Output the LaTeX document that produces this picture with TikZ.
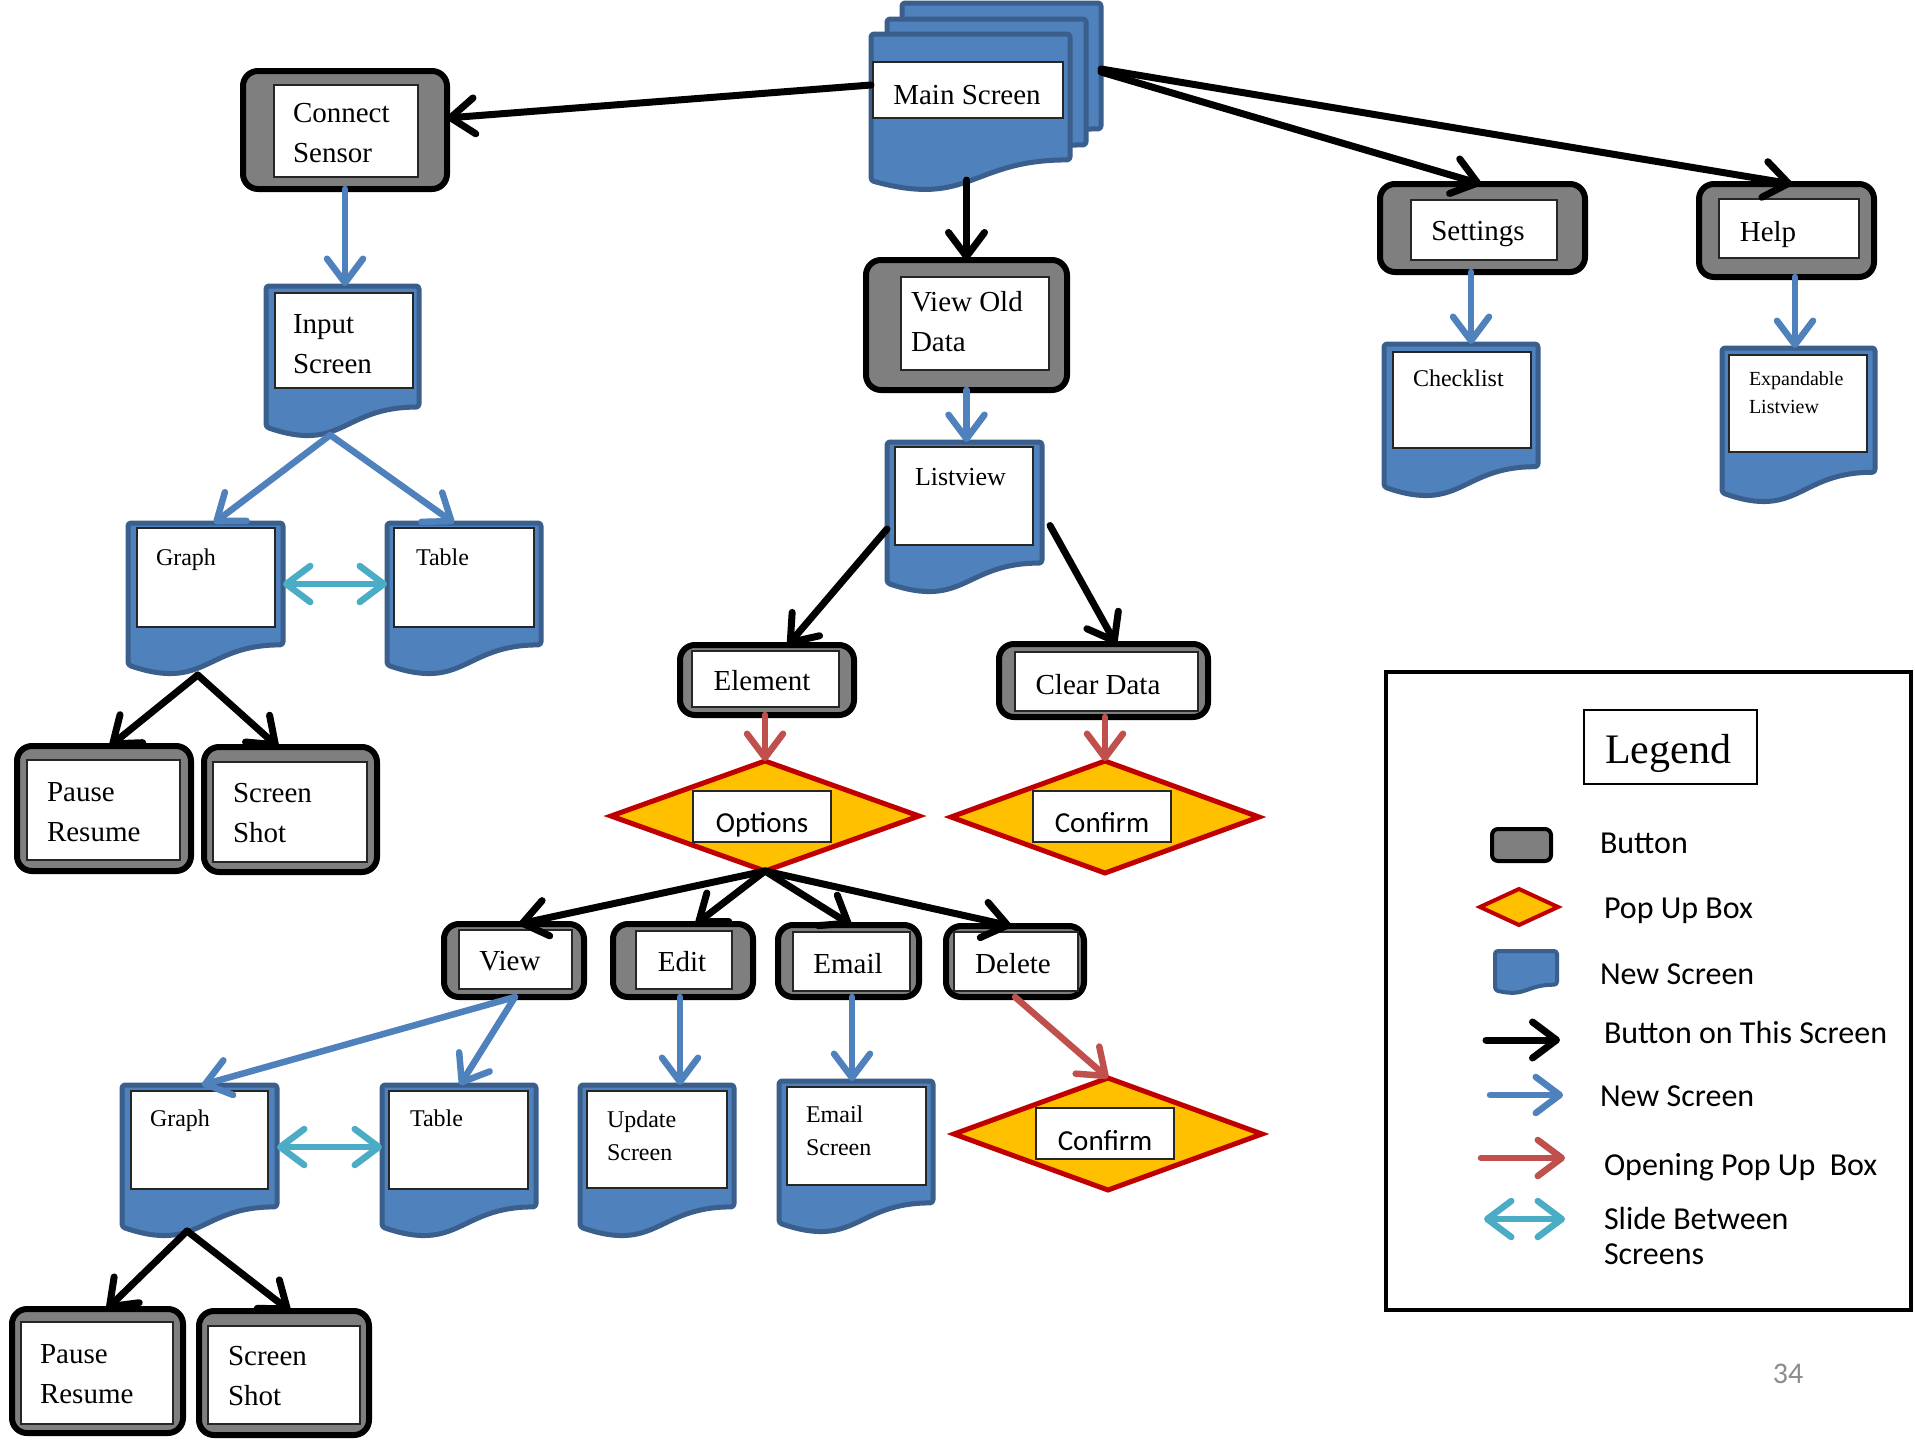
\documentclass[tikz,border=0pt]{standalone}
\usepackage{fontspec}
\setmainfont{Liberation Serif}
\newfontfamily\calfont{Carlito}
\usetikzlibrary{arrows.meta,shapes.geometric,calc,fit}
\definecolor{docblue}{HTML}{4F81BD}
\definecolor{docedge}{HTML}{3A5F8C}
\definecolor{btngray}{HTML}{7F7F7F}
\definecolor{popfill}{HTML}{FFC000}
\definecolor{popedge}{HTML}{C00000}
\definecolor{arrred}{HTML}{C0504D}
\definecolor{arrcyan}{HTML}{4BACC6}
\definecolor{pagegray}{HTML}{8C8C8C}
\newcommand\fsz[2]{\fontsize{#1}{#2}\selectfont}
\tikzset{
  every node/.style={inner sep=0pt, outer sep=0pt},
  vbarb/.tip={Straight Barb[length=24pt,width=36pt,round]},
  btnbox/.style={draw=black, line width=6pt, fill=btngray, rounded corners=15pt},
  wbox/.style={draw=black!85, line width=1.5pt, fill=white},
  docbox/.style={draw=none},
  docline/.style={draw=docedge, fill=docblue, line width=5pt, rounded corners=3pt, line join=round},
  popbox/.style={diamond, draw=popedge, fill=popfill, line width=5pt},
  lbl/.style={anchor=west, align=left},
  ctr/.style={text depth=0pt},
  blk/.style={draw=black, line width=7pt, line cap=round, -vbarb},
  blu/.style={draw=docblue, line width=6.5pt, line cap=round, -vbarb},
  redarr/.style={draw=arrred, line width=6.5pt, line cap=round, -vbarb},
  cyanarr/.style={draw=arrcyan, line width=6.5pt, line cap=round, vbarb-vbarb},
  btnfont/.style={font=\fsz{29}{40}},
  legtext/.style={anchor=west, align=left, text depth=0pt, font=\calfont\fsz{32}{35}},
}
\newcommand\docshape[2][]{\draw[docline,#1] (#2.north west) -- (#2.north east) -- ($(#2.north east)!0.802!(#2.south east)$) .. controls ($(#2.north)!0.802!(#2.south)$) and ($(#2.north)!1.108!(#2.south)$) .. ($(#2.north west)!0.934!(#2.south west)$) -- cycle;}
\newcommand\docnode[5]{\node[docbox, fit={(#2,#3)(#4,#5)}] (#1) {};\docshape{#1}}
\newcommand\wnode[5]{\node[wbox, fit={(#2,#3)(#4,#5)}] (#1) {};}
\newcommand\btnnode[5]{\node[btnbox, fit={(#2,#3)(#4,#5)}] (#1) {};}
\begin{document}
\begin{tikzpicture}[x=1pt,y=-1pt]
\fill[white] (0,0) rectangle (1915,1440);
\useasboundingbox (0,0) rectangle (1915,1440);

% ---------- Main screen stack ----------
\docnode{ms3}{902}{3}{1101}{160}
\docnode{ms2}{887}{19}{1086}{176}
\docnode{ms1}{871}{34}{1070}{191}
\wnode{msw}{873}{62}{1063}{118}
\node[ctr, btnfont] (mst) at (967,95) {Main Screen};

% ---------- Connect sensor branch ----------
\btnnode{cs}{243}{71}{447}{189}
\wnode{csw}{274}{85}{418}{177}
\node[lbl, btnfont] (cst) at (293,133) {Connect\\Sensor};

\docnode{is}{266}{286}{419}{437}
\wnode{isw}{275}{293}{413}{388}
\node[lbl, btnfont] (ist) at (293,344) {Input\\Screen};

\docnode{g1}{128}{523}{283}{675}
\wnode{g1w}{137}{528}{275}{627}
\node[lbl, ctr, font=\fsz{24}{30}] (g1t) at (156,557) {Graph};

\docnode{t1}{387}{523}{541}{675}
\wnode{t1w}{394}{528}{534}{627}
\node[lbl, ctr, font=\fsz{24}{30}] (t1t) at (416,557) {Table};

\btnnode{p1}{17}{746}{191}{871}
\wnode{p1w}{27}{760}{180}{860}
\node[lbl, btnfont] (p1t) at (47,812) {Pause\\Resume};

\btnnode{s1}{204}{747}{377}{872}
\wnode{s1w}{213}{762}{367}{862}
\node[lbl, btnfont] (s1t) at (233,813) {Screen\\Shot};

% ---------- View old data branch ----------
\btnnode{vo}{866}{260}{1067}{390}
\wnode{vow}{901}{277}{1049}{370}
\node[lbl, btnfont] (vot) at (911,322) {View Old\\Data};

\docnode{lv}{887}{442}{1042}{593}
\wnode{lvw}{895}{447}{1033}{545}
\node[lbl, ctr, font=\fsz{26}{32}] (lvt) at (915,477) {Listview};

\btnnode{el}{680}{645}{854}{715}
\wnode{elw}{692}{651}{839}{707}
\node[ctr, btnfont] (elt) at (762,680) {Element};

\btnnode{cd}{999}{644}{1208}{717}
\wnode{cdw}{1015}{652}{1198}{711}
\node[ctr, btnfont] (cdt) at (1098,684) {Clear Data};

\node[popbox, minimum width=308pt, minimum height=110pt] (op) at (765,816) {};
\wnode{opw}{693}{791}{831}{842}
\node[ctr, font=\calfont\fsz{29}{34}] (opt) at (762,822) {Options};

\node[popbox, minimum width=308pt, minimum height=112pt] (cf1) at (1105,817) {};
\wnode{cf1w}{1033}{791}{1171}{842}
\node[ctr, font=\calfont\fsz{29}{34}] (cf1t) at (1102,822) {Confirm};

\btnnode{vw}{444}{924}{584}{997}
\wnode{vww}{459}{930}{572}{989}
\node[ctr, btnfont] (vwt) at (510,961) {View};

\btnnode{ed}{613}{924}{753}{997}
\wnode{edw}{636}{931}{732}{989}
\node[ctr, btnfont] (edt) at (682,961) {Edit};

\btnnode{em}{778}{925}{919}{997}
\wnode{emw}{793}{932}{910}{991}
\node[ctr, btnfont] (emt) at (848,963) {Email};

\btnnode{de}{946}{926}{1084}{997}
\wnode{dew}{954}{932}{1078}{991}
\node[ctr, btnfont] (det) at (1013,963) {Delete};

\docnode{g2}{122}{1085}{277}{1237}
\wnode{g2w}{131}{1091}{268}{1189}
\node[lbl, ctr, font=\fsz{24}{30}] (g2t) at (150,1118) {Graph};

\docnode{t2}{382}{1085}{536}{1237}
\wnode{t2w}{389}{1091}{528}{1189}
\node[lbl, ctr, font=\fsz{24}{30}] (t2t) at (410,1118) {Table};

\btnnode{p2}{12}{1309}{183}{1433}
\wnode{p2w}{21}{1322}{173}{1424}
\node[lbl, btnfont] (p2t) at (40,1374) {Pause\\Resume};

\btnnode{s2}{199}{1311}{369}{1435}
\wnode{s2w}{208}{1326}{360}{1424}
\node[lbl, btnfont] (s2t) at (228,1376) {Screen\\Shot};

\docnode{ud}{580}{1085}{734}{1237}
\wnode{udw}{587}{1091}{727}{1188}
\node[lbl, font=\fsz{24}{33}] (udt) at (607,1136) {Update\\Screen};

\docnode{es}{779}{1081}{933}{1233}
\wnode{esw}{787}{1087}{926}{1185}
\node[lbl, font=\fsz{24}{33}] (est) at (806,1131) {Email\\Screen};

\node[popbox, minimum width=308pt, minimum height=112pt] (cf2) at (1108,1134) {};
\wnode{cf2w}{1036}{1108}{1174}{1159}
\node[ctr, font=\calfont\fsz{29}{34}] (cf2t) at (1105,1140) {Confirm};

% ---------- Settings / Help ----------
\btnnode{st}{1380}{184}{1585}{272}
\wnode{stw}{1411}{200}{1557}{260}
\node[ctr, btnfont] (stt) at (1478,231) {Settings};

\btnnode{hp}{1699}{184}{1874}{277}
\wnode{hpw}{1719}{199}{1859}{258}
\node[ctr, btnfont] (hpt) at (1768,231) {Help};

\docnode{ck}{1384}{344}{1538}{497}
\wnode{ckw}{1393}{352}{1531}{448}
\node[lbl, ctr, font=\fsz{24}{30}] (ckt) at (1413,378) {Checklist};

\docnode{ex}{1722}{348}{1875}{503}
\wnode{exw}{1729}{355}{1867}{452}
\node[lbl, font=\fsz{20}{28}] (ext) at (1749,393) {Expandable\\Listview};

% ---------- Connectors ----------
\coordinate (ms1b) at ($(ms1.north)!0.93!(ms1.south)$);
\draw[blk] (ms1.west |- 0,85) -- (cs.east |- 0,118);
\draw[blk] (ms1b -| vo.north) -- (vo.north);
\draw[blk] (ms3.east |- 0,72) -- (st.north -| 1481,0);
\draw[blk] (ms3.east |- 0,69) -- (hp.north -| 1792,0);

\draw[blu] (cs.south) -- (cs.south |- is.north);
\coordinate (isb) at ($(is.south west)!0.42!(is.south east)+(0,-2)$);
\draw[blu] (isb) -- (g1.north -| 214,0);
\draw[blu] (isb) -- (t1.north -| 454,0);
\draw[cyanarr] (g1.east |- 0,584) -- (t1.west |- 0,584);
\coordinate (g1b) at ($(g1.south west)!0.45!(g1.south east)$);
\draw[blk] (g1b) -- (p1.north -| 110,0);
\draw[blk] (g1b) -- (s1.north -| 278,0);

\draw[blu] (vo.south) -- (vo.south |- lv.north);
\draw[blk] (lv.west |- 0,529) -- (el.north -| 788,0);
\draw[blk] ($(lv.east)+(8,8)$) -- (cd.north -| 1116,0);
\draw[redarr] (el.south -| op.north) -- (op.north);
\draw[redarr] (cd.south -| cf1.north) -- (cf1.north);
\draw[blk] (op.south) -- (vw.north -| 519,0);
\draw[blk] (op.south) -- (ed.north -| 696,0);
\draw[blk] (op.south) -- (em.north -| 851,0);
\draw[blk] (op.south) -- (de.north -| 1011,0);
\draw[blu] (vw.south -| 515,0) -- (g2.north -| 202,0);
\draw[blu] (vw.south -| 515,0) -- (t2.north -| 460,0);
\draw[cyanarr] (g2.east |- 0,1147) -- (t2.west |- 0,1147);
\coordinate (g2b) at ($(g2.south west)!0.42!(g2.south east)+(0,-6)$);
\draw[blk] (g2b) -- (p2.north -| 107,0);
\draw[blk] (g2b) -- (s2.north -| 290,0);
\draw[blu] (ed.south -| 680,0) -- (ud.north -| 680,0);
\draw[blu] (em.south -| 852,0) -- (es.north -| 852,0);
\draw[redarr] (de.south -| 1015,0) -- (cf2.north);
\draw[blu] (st.south -| 1471,0) -- (ck.north -| 1471,0);
\draw[blu] (hp.south -| 1795,0) -- (ex.north -| 1795,0);

% ---------- Legend ----------
\node[draw=black, line width=4pt, fit={(1386,672)(1911,1310)}] (leg) {};
\node[draw=black, line width=1.5pt, fit={(1584,710)(1757,784)}] (legt) {};
\node[ctr, font=\fsz{42}{46}] (legtt) at (1668,749) {Legend};

\node[btnbox, line width=4pt, rounded corners=6pt, fit={(1492,829)(1551,861)}] (lgbtn) {};
\node[legtext] (lgbtnt) at (1600,843) {Button};
\node[popbox, line width=4pt, minimum width=78pt, minimum height=36pt] (lgpop) at (1519,907) {};
\node[legtext] (lgpopt) at (1604,908) {Pop Up Box};
\node[docbox, fit={(1495,951)(1557,993)}] (lgdoc) {};
\docshape[line width=4pt]{lgdoc}
\node[legtext] (lgdoct) at (1600,974) {New Screen};
\coordinate (lga1) at (1486,1040); \coordinate (lga2) at (1560,1040);
\draw[blk] (lga1) -- (lga2);
\node[legtext] (lgat) at (1604,1032) {Button on This Screen};
\coordinate (lgb1) at (1490,1095); \coordinate (lgb2) at (1563,1095);
\draw[blu] (lgb1) -- (lgb2);
\node[legtext] (lgbt) at (1600,1096) {New Screen};
\coordinate (lgc1) at (1481,1158); \coordinate (lgc2) at (1565,1158);
\draw[redarr] (lgc1) -- (lgc2);
\node[legtext] (lgct) at (1604,1164) {Opening Pop Up\ \ Box};
\coordinate (lgd1) at (1484,1219); \coordinate (lgd2) at (1565,1219);
\draw[cyanarr] (lgd1) -- (lgd2);
\node[anchor=west, align=left, font=\calfont\fsz{32}{35}] (lgdt) at (1604,1236) {Slide Between\\Screens};

\node[ctr, text=pagegray, font=\calfont\fsz{30}{34}] (pg) at (1788,1374) {34};
\end{tikzpicture}
\end{document}
